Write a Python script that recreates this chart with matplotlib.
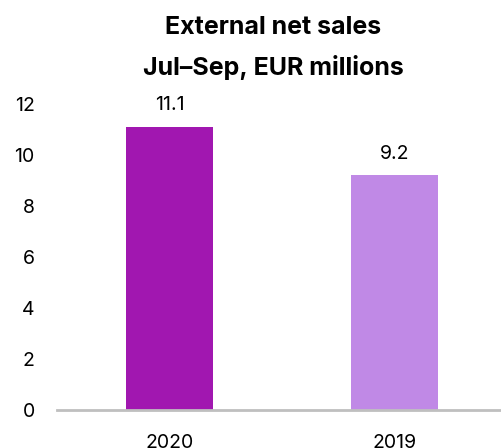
import matplotlib.pyplot as plt

categories = ["2020", "2019"]
values = [11.1, 9.2]
colors = ["#A117B0", "#C089E6"]
yticks = [0, 2, 4, 6, 8, 10, 12]

plt.rcParams["font.family"] = ["Inter", "DejaVu Sans"]

fig = plt.figure(figsize=(5.02, 4.48), dpi=100)
ax = fig.add_axes([57 / 502, 38 / 448, 445 / 502, 306 / 448])

x = range(len(categories))
bars = ax.bar(x, values, width=0.387, color=colors)
for b, v in zip(bars, values):
    ax.annotate(f"{v:.1f}", (b.get_x() + b.get_width() / 2, v),
                xytext=(0, 9), textcoords="offset points",
                ha="center", va="bottom", fontsize=14)

ax.set_xlim(-0.5, 1.478)
ax.set_ylim(0, 12)
ax.set_yticks(yticks)
ax.set_xticks(list(x))
ax.set_xticklabels(categories)
ax.tick_params(axis="both", length=0, labelsize=14)
ax.tick_params(axis="y", pad=16)
ax.tick_params(axis="x", pad=17)

for s in ["top", "right", "left"]:
    ax.spines[s].set_visible(False)
ax.spines["bottom"].set_color("#BFBFBF")
ax.spines["bottom"].set_linewidth(2)

fig.text(273 / 502, 1 - 27 / 448, "External net sales", ha="center", va="center",
         fontsize=18, fontweight="bold")
fig.text(273 / 502, 1 - 67 / 448, "Jul–Sep, EUR millions", ha="center", va="center",
         fontsize=18, fontweight="bold")

fig.savefig("out.png", dpi=100)
